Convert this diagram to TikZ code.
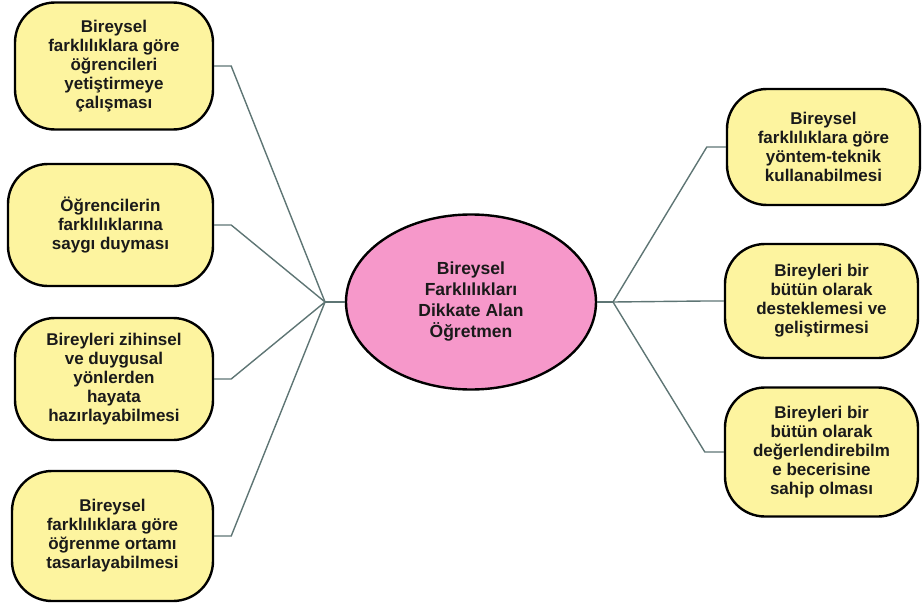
\documentclass[tikz,border=0pt]{standalone}
\usepackage{fontspec}
\setmainfont{Liberation Sans}
\usetikzlibrary{shapes.geometric}
\definecolor{boxfill}{HTML}{FDF49F}
\definecolor{hubfill}{HTML}{F698CA}
\definecolor{linkcol}{HTML}{5E7574}
\definecolor{txtcol}{HTML}{1A1A1A}
\begin{document}
\begin{tikzpicture}[x=1pt,y=-1pt,
  idea/.style={draw=black, line width=2.4pt, fill=boxfill, rounded corners=40pt,
    align=center, inner sep=0pt, text=txtcol,
    font=\fontsize{17}{19}\selectfont\bfseries},
  hub/.style={ellipse, draw=black, line width=2.4pt, fill=hubfill, inner sep=0pt,
    align=center, text=txtcol, minimum width=250pt, minimum height=175pt,
    font=\fontsize{17.5}{21}\selectfont\bfseries},
  link/.style={draw=linkcol, line width=1.4pt, line join=miter}]
\useasboundingbox (0,0) rectangle (922,605);

% central topic
\node[hub] (hub) at (471,302) {Bireysel\\Farklılıkları\\Dikkate Alan\\Öğretmen};

% left branches
\node[idea, minimum width=198pt, minimum height=127pt] (l1) at (114,66)
  {Bireysel\\farklılıklara göre\\öğrencileri\\yetiştirmeye\\çalışması};
\node[idea, minimum width=205pt, minimum height=122pt] (l2) at (110.5,225)
  {Öğrencilerin\\farklılıklarına\\saygı duyması};
\node[idea, minimum width=198pt, minimum height=122pt] (l3) at (114,379)
  {Bireyleri zihinsel\\ve duygusal\\yönlerden\\hayata\\hazırlayabilmesi};
\node[idea, minimum width=201pt, minimum height=130pt] (l4) at (112.5,536)
  {Bireysel\\farklılıklara göre\\öğrenme ortamı\\tasarlayabilmesi};

% right branches
\node[idea, minimum width=193pt, minimum height=116pt] (r1) at (823.5,147)
  {Bireysel\\farklılıklara göre\\yöntem-teknik\\kullanabilmesi};
\node[idea, minimum width=193pt, minimum height=114pt] (r2) at (821.5,301)
  {Bireyleri bir\\bütün olarak\\desteklemesi ve\\geliştirmesi};
\node[idea, minimum width=193pt, minimum height=129pt] (r3) at (821.5,452)
  {Bireyleri bir\\bütün olarak\\değerlendirebilm\\e becerisine\\sahip olması};

% junction points beside the hub
\coordinate (lj) at (325,302);
\coordinate (rj) at (613,302);

% connectors
\draw[link] (hub.west) -- (lj);
\draw[link] (hub.east) -- (rj);
\foreach \n in {l1,l2,l3,l4}
  \draw[link] (\n.east) -- ([xshift=17pt]\n.east) -- (lj);
\foreach \n in {r1,r2,r3}
  \draw[link] (\n.west) -- ([xshift=-19pt]\n.west) -- (rj);
\end{tikzpicture}
\end{document}
